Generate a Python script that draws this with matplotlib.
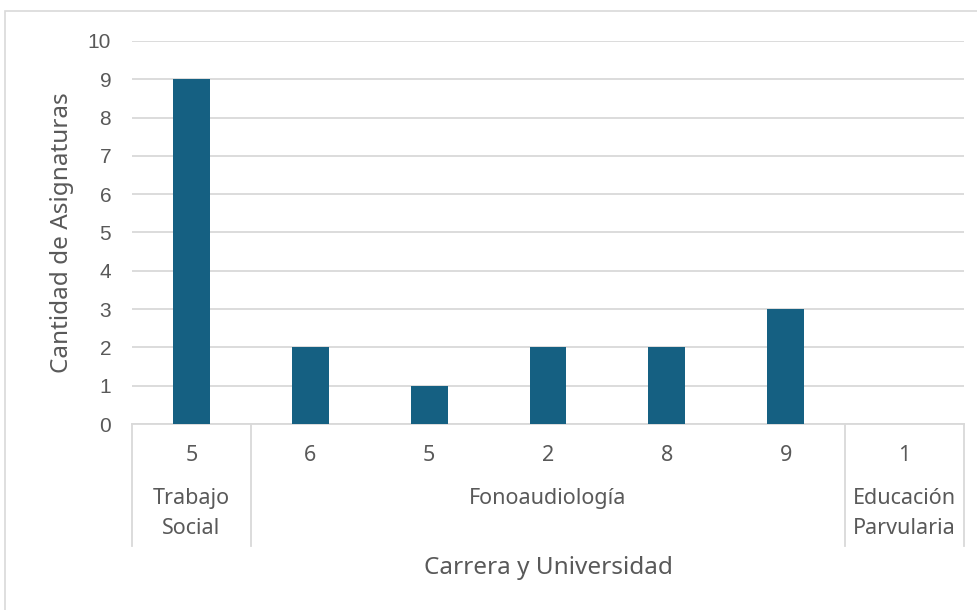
import matplotlib
matplotlib.use("Agg")
import matplotlib.pyplot as plt
from matplotlib.patches import Rectangle

# data
subcats = ["5", "6", "5", "2", "8", "9", "1"]
values = [9, 2, 1, 2, 2, 3, 0]
groups = ["Trabajo\nSocial", "Fonoaudiología", "Educación\nParvularia"]
group_sizes = [1, 5, 1]
y_ticks = list(range(0, 11))

BAR = "#156082"
TEXT = "#595959"
GRID = "#d9d9d9"
W, H = 977, 610

plt.rcParams["font.family"] = ["Noto Sans", "DejaVu Sans"]

fig = plt.figure(figsize=(W / 100, H / 100), dpi=100)

# chart frame (runs off the right and bottom edges like the reference)
fig.patches.append(Rectangle((5 / W, -0.1), 1.0, 1 - 11 / H + 0.1,
                             transform=fig.transFigure, fill=False,
                             edgecolor=GRID, lw=1.2))

left, right, top, bottom = 132, 964, 41, 424
ax = fig.add_axes([left / W, 1 - bottom / H, (right - left) / W, (bottom - top) / H])

x = range(len(values))
ax.bar(x, values, width=0.31, color=BAR, zorder=3)
ax.set_xlim(-0.5, len(values) - 0.5)
ax.set_ylim(0, 10)
ax.set_yticks(y_ticks)
ax.tick_params(axis="y", length=0, pad=15, labelsize=15, labelcolor=TEXT)
for lab in ax.get_yticklabels():
    lab.set_family(["Liberation Sans", "DejaVu Sans"])
ax.grid(axis="y", color=GRID, lw=1.3, zorder=0)
for s in ("top", "right", "left"):
    ax.spines[s].set_visible(False)
ax.spines["bottom"].set_color(GRID)
ax.spines["bottom"].set_linewidth(1.3)

ax.set_xticks(list(x))
ax.set_xticklabels(subcats)
ax.tick_params(axis="x", length=0, pad=15, labelsize=15.5, labelcolor=TEXT)

# group separators and labels of the two-level category axis
sep_depth = -(546 - bottom) / (bottom - top)
trans = ax.get_xaxis_transform()
edges = [-0.5]
for n in group_sizes:
    edges.append(edges[-1] + n)
for e in edges:
    ax.plot([e, e], [0, sep_depth], transform=trans, color=GRID, lw=1.3,
            clip_on=False)
for i, g in enumerate(groups):
    cx = (edges[i] + edges[i + 1]) / 2
    ax.text(cx, -(488 - bottom) / (bottom - top), g, transform=trans,
            ha="center", va="top", fontsize=15.5, color=TEXT, linespacing=1.55)

ax.text(0.5, -(568 - bottom) / (bottom - top), "Carrera y Universidad",
        transform=ax.transAxes, ha="center", va="center", fontsize=17.5,
        color=TEXT)
ax.set_ylabel("Cantidad de Asignaturas", fontsize=17.5, color=TEXT, labelpad=10)

fig.savefig("out.png", dpi=100)
